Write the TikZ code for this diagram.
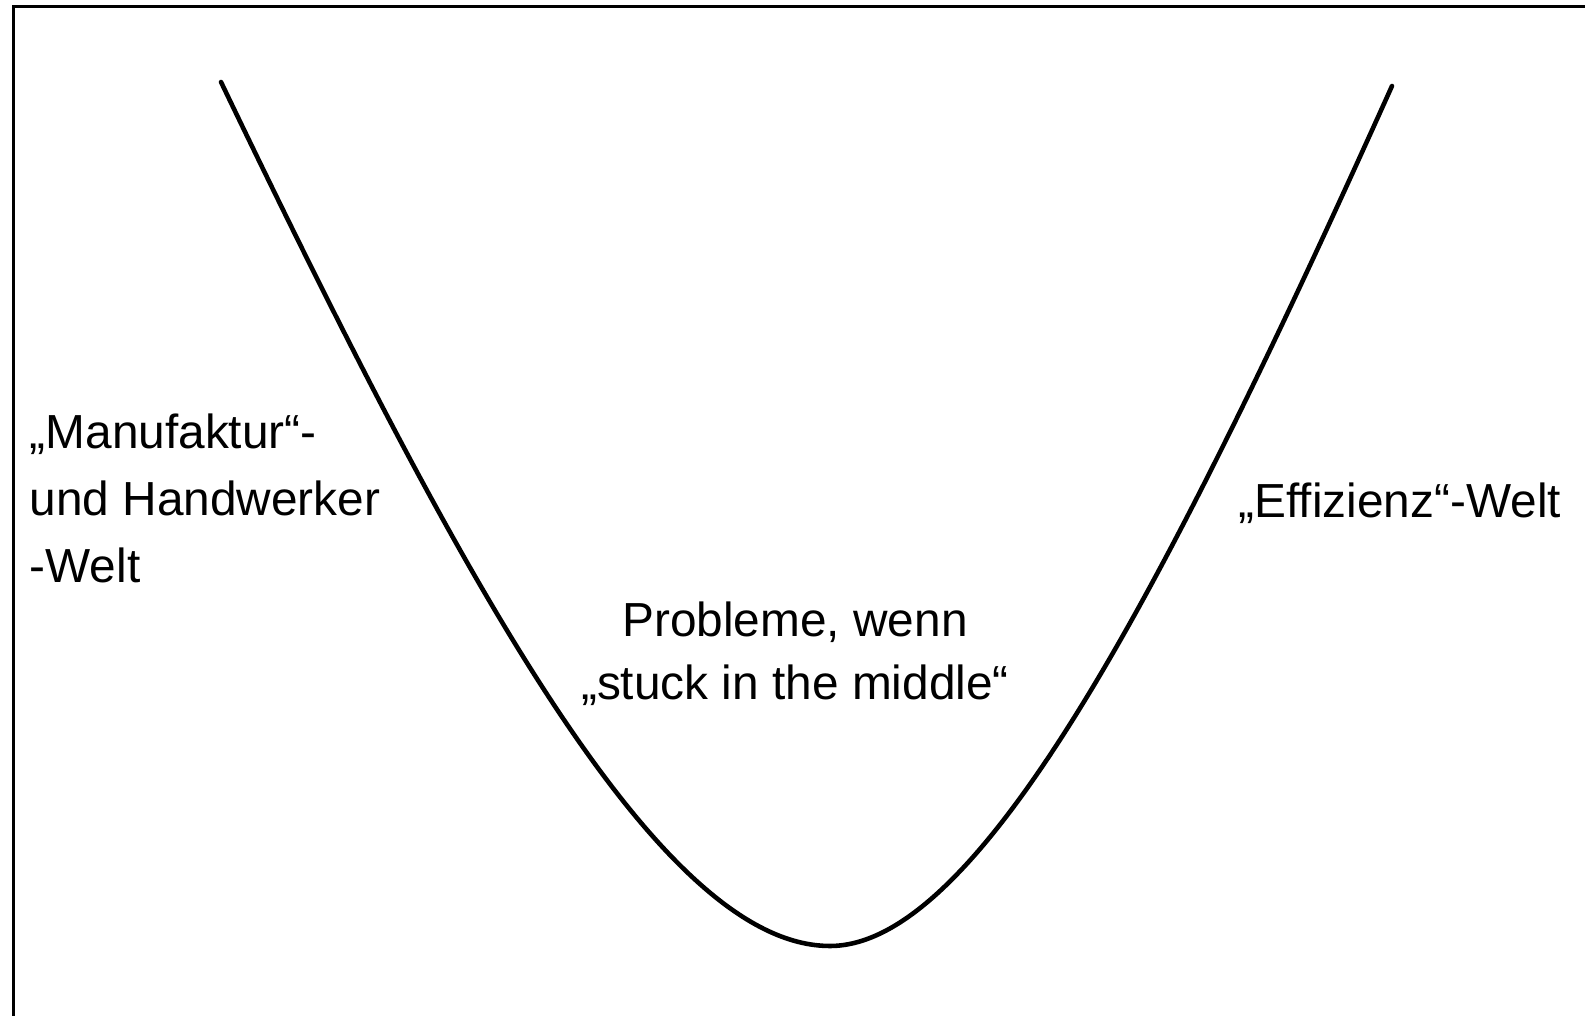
\documentclass[tikz,border=0pt]{standalone}
\usepackage{fontspec}
\setmainfont{Liberation Sans}

\begin{document}
\begin{tikzpicture}[
  x=0.1mm, y=-0.1mm,
  frame/.style={draw,line width=0.6pt},
  valley/.style={line width=1.3pt,line join=round,line cap=round},
  lbl/.style={font=\fontsize{13.6}{19.1}\selectfont,inner sep=0pt},
]
\useasboundingbox (0,0) rectangle (1585,1016);
\clip (0,0) rectangle (1585,1016);

% slide frame, right and bottom edges lie outside
\draw[frame] (13.5,6.5) rectangle (1700,1100);

% the U curve
\coordinate (ltop) at (221,82);
\coordinate (bot)  at (830,946);
\coordinate (rtop) at (1392,86);
\draw[valley] (ltop) .. controls (461,582) and (660,946) .. (bot)
                     .. controls (980,946) and (1167,586) .. (rtop);

\node[lbl,align=left,anchor=base west] (manu) at (29,583)
  {„Manufaktur“-\\und Handwerker\\-Welt};

\node[lbl,align=center,anchor=base,font=\fontsize{13.6}{18.1}\selectfont] (mid) at (795,700)
  {Probleme, wenn\\„stuck in the middle“};

\node[lbl,anchor=base west] (effi) at (1238,518) {„Effizienz“-Welt};

\end{tikzpicture}
\end{document}
